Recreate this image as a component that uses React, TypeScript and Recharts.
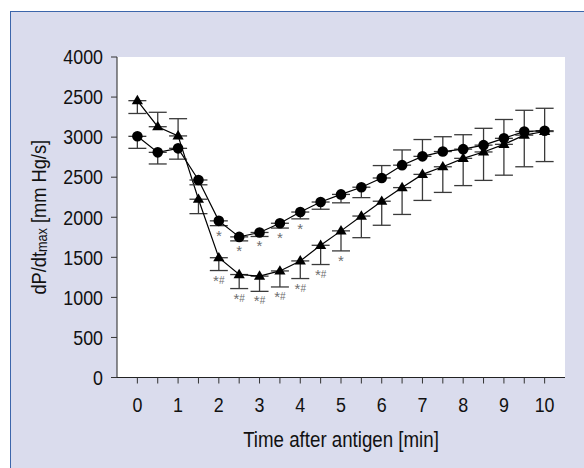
import React from "react";
import { ComposedChart, Line, XAxis, YAxis, ErrorBar, CartesianGrid } from "recharts";

// Time points [min]
const times = [0, 0.5, 1, 1.5, 2, 2.5, 3, 3.5, 4, 4.5, 5, 5.5, 6, 6.5, 7, 7.5, 8, 8.5, 9, 9.5, 10];

// Circle series (mean, lower error, upper error)
const circleValues = [3010, 2810, 2860, 2465, 1955, 1755, 1810, 1925, 2065, 2190, 2285, 2375, 2490, 2650, 2760, 2820, 2850, 2900, 2985, 3070, 3080];
const circleErrLow = [150, 145, 135, 60, 60, 50, 50, 60, 85, 90, 105, 130, 0, 0, 0, 0, 0, 0, 0, 0, 0];
const circleErrHigh = [0, 0, 0, 0, 0, 0, 0, 0, 0, 0, 0, 0, 155, 190, 210, 185, 180, 210, 235, 265, 280];

// Triangle series (mean, lower error, upper error)
const triangleValues = [3455, 3130, 3015, 2225, 1495, 1285, 1265, 1330, 1455, 1650, 1830, 2015, 2200, 2370, 2535, 2630, 2735, 2815, 2910, 3025, 3070];
const triangleErrLow = [160, 0, 0, 180, 160, 175, 190, 200, 220, 240, 250, 270, 300, 335, 325, 320, 340, 355, 385, 395, 375];
const triangleErrHigh = [0, 180, 215, 0, 0, 0, 0, 0, 0, 0, 0, 0, 0, 0, 0, 0, 0, 0, 0, 0, 0];

// Significance marks
const circleMarks = ["", "", "", "", "*", "*", "*", "*", "*", "", "", "", "", "", "", "", "", "", "", "", ""];
const triangleMarks = ["", "", "", "", "*#", "*#", "*#", "*#", "*#", "*#", "*", "", "", "", "", "", "", "", "", "", ""];

// Axis ticks
const yTicks = [0, 500, 1000, 1500, 2000, 2500, 3000, 3500, 4000];
const yTickLabels = ["0", "500", "1000", "1500", "2000", "2500", "3000", "2500", "4000"];
const xTicks = times;
const xTickLabels = ["0", "", "1", "", "2", "", "3", "", "4", "", "5", "", "6", "", "7", "", "8", "", "9", "", "10"];

const data = times.map((t, i) => ({
  t,
  c: circleValues[i],
  cErr: [circleErrLow[i], circleErrHigh[i]],
  tr: triangleValues[i],
  trErr: [triangleErrLow[i], triangleErrHigh[i]],
  cMarkY: circleMarks[i] ? circleValues[i] - circleErrLow[i] : null,
  trMarkY: triangleMarks[i] ? triangleValues[i] - triangleErrLow[i] : null,
  cMark: circleMarks[i],
  trMark: triangleMarks[i],
}));

const FONT = "'Liberation Sans', Arial, sans-serif";
const SX = 0.87;

const squeeze = (x: number) => `translate(${x} 0) scale(${SX} 1) translate(${-x} 0)`;

const XTick = (props: any) => {
  const { x, y, payload } = props;
  const idx = xTicks.indexOf(payload.value);
  const label = idx >= 0 ? xTickLabels[idx] : "";
  if (!label) return <g />;
  return (
    <text x={x} y={y} dy="0.71em" textAnchor="middle" fill="#111" fontFamily={FONT} fontSize={20.5} transform={squeeze(x)}>
      {label}
    </text>
  );
};

const YTick = (props: any) => {
  const { x, y, payload } = props;
  const idx = yTicks.indexOf(payload.value);
  const label = idx >= 0 ? yTickLabels[idx] : String(payload.value);
  return (
    <text x={x} y={y} dy="0.355em" textAnchor="end" fill="#111" fontFamily={FONT} fontSize={20.5} transform={squeeze(x)}>
      {label}
    </text>
  );
};

const CircleDot = (props: any) => {
  const { cx, cy, index } = props;
  if (cx == null || cy == null) return <g key={`c${index}`} />;
  return <circle key={`c${index}`} cx={cx} cy={cy} r={5.3} fill="#000" />;
};

const TriangleDot = (props: any) => {
  const { cx, cy, index } = props;
  if (cx == null || cy == null) return <g key={`t${index}`} />;
  const pts = `${cx},${cy - 5.8} ${cx + 5.6},${cy + 3.6} ${cx - 5.6},${cy + 3.6}`;
  return <polygon key={`t${index}`} points={pts} fill="#000" />;
};

const makeMark = (field: string, gap: number) => (props: any) => {
  const { cx, cy, index, payload } = props;
  if (cx == null || cy == null || !payload || !payload[field]) return <g key={`m${field}${index}`} />;
  const label: string = payload[field];
  const star = label[0];
  const rest = label.slice(1);
  return (
    <text
      key={`m${field}${index}`}
      x={cx}
      y={cy + gap}
      textAnchor="middle"
      fill="#6e6e6e"
      fontFamily="'Liberation Sans', sans-serif"
      fontSize={15}
    >
      {star}
      {rest ? (
        <tspan fontSize={10} dy={-2}>
          {rest}
        </tspan>
      ) : null}
    </text>
  );
};

const YTitle = (props: any) => {
  const vb = props.viewBox || { x: 17, y: 57, width: 100, height: 320 };
  const x = vb.x + 29;
  const y = vb.y + vb.height / 2;
  return (
    <g transform={`rotate(-90 ${x} ${y})`}>
      <text
        x={x}
        y={y}
        transform={squeeze(x)}
        textAnchor="middle"
        fill="#111"
        fontFamily={FONT}
        fontSize={21}
      >
        dP/dt
        <tspan fontSize={14.5} dy={1}>
          max
        </tspan>
        <tspan dy={-1}> [mm Hg/s]</tspan>
      </text>
    </g>
  );
};

const XTitle = (props: any) => {
  const vb = props.viewBox || { x: 117, y: 377, width: 448, height: 60 };
  const x = vb.x + vb.width / 2;
  return (
    <text x={x} y={447} textAnchor="middle" fill="#111" fontFamily={FONT} fontSize={21.5} transform={squeeze(x)}>
      Time after antigen [min]
    </text>
  );
};

export default function App() {
  return (
    <div style={{ position: "absolute", left: 0, top: 0, width: 584, height: 468, overflow: "hidden", background: "#fff" }}>
      <div
        style={{
          position: "absolute",
          left: 10,
          top: 11,
          width: 600,
          height: 500,
          background: "#dadced",
          borderLeft: "1.5px solid #3c66ab",
          borderTop: "1.5px solid #3c66ab",
        }}
      />
      <div style={{ position: "absolute", left: 0, top: 0 }}>
        <ComposedChart width={584} height={468} data={data} margin={{ top: 57, right: 19, left: 17, bottom: 30.5 }}>
          <CartesianGrid horizontal={false} vertical={false} fill="#ffffff" />
          <XAxis
            dataKey="t"
            type="number"
            domain={[-0.5, 10.5]}
            ticks={xTicks}
            interval={0}
            allowDataOverflow
            height={60}
            tickSize={6}
            tickMargin={14}
            stroke="#222"
            tickLine={{ stroke: "#333" }}
            tick={XTick}
            label={{ content: XTitle } as any}
          />
          <YAxis
            type="number"
            domain={[0, 4000]}
            ticks={yTicks}
            interval={0}
            width={100}
            tickSize={6}
            tickMargin={8}
            stroke="#222"
            tickLine={{ stroke: "#333" }}
            tick={YTick}
            label={{ content: YTitle } as any}
          />
          <Line
            dataKey="tr"
            stroke="#000"
            strokeWidth={1.2}
            dot={TriangleDot}
            activeDot={false}
            isAnimationActive={false}
          >
            <ErrorBar dataKey="trErr" direction="y" width={9} stroke="#3a3a3a" strokeWidth={1.3} isAnimationActive={false} />
          </Line>
          <Line
            dataKey="c"
            stroke="#000"
            strokeWidth={1.2}
            dot={CircleDot}
            activeDot={false}
            isAnimationActive={false}
          >
            <ErrorBar dataKey="cErr" direction="y" width={9} stroke="#3a3a3a" strokeWidth={1.3} isAnimationActive={false} />
          </Line>
          <Line
            dataKey="cMarkY"
            stroke="none"
            dot={makeMark("cMark", 15)}
            activeDot={false}
            isAnimationActive={false}
            connectNulls={false}
          />
          <Line
            dataKey="trMarkY"
            stroke="none"
            dot={makeMark("trMark", 15)}
            activeDot={false}
            isAnimationActive={false}
            connectNulls={false}
          />
        </ComposedChart>
      </div>
    </div>
  );
}
